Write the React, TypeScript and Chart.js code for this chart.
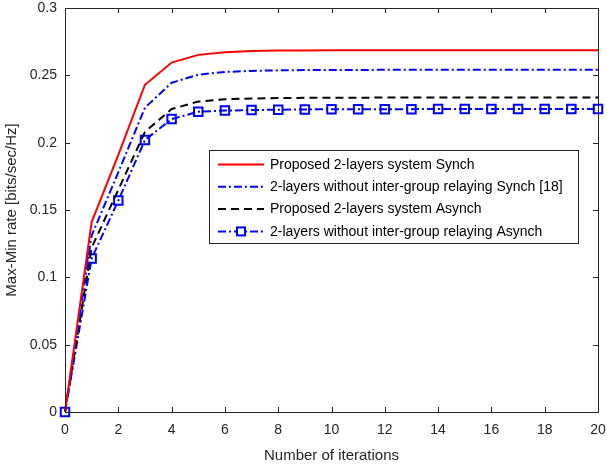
import React, { useEffect, useRef } from "react";
import { Chart, registerables } from "chart.js";

Chart.register(...registerables);

const iterations = [0, 1, 2, 3, 4, 5, 6, 7, 8, 9, 10, 11, 12, 13, 14, 15, 16, 17, 18, 19, 20];
const synchProposed = [0, 0.141, 0.191, 0.243, 0.2595, 0.2652, 0.2672, 0.268, 0.2684, 0.2685, 0.2686, 0.2686, 0.2687, 0.2687, 0.2687, 0.2687, 0.2687, 0.2687, 0.2687, 0.2687, 0.2687];
const synchNoRelay = [0, 0.131, 0.178, 0.226, 0.2445, 0.2505, 0.2525, 0.2533, 0.2537, 0.2539, 0.254, 0.254, 0.2541, 0.2541, 0.2541, 0.2542, 0.2542, 0.2542, 0.2542, 0.2542, 0.2542];
const asynchProposed = [0, 0.122, 0.165, 0.208, 0.225, 0.2305, 0.2322, 0.2328, 0.2331, 0.2333, 0.2334, 0.2334, 0.2335, 0.2335, 0.2335, 0.2335, 0.2335, 0.2335, 0.2335, 0.2335, 0.2335];
const asynchNoRelay = [0, 0.114, 0.157, 0.202, 0.2175, 0.223, 0.2238, 0.2242, 0.2245, 0.2247, 0.2248, 0.2248, 0.2249, 0.2249, 0.225, 0.225, 0.225, 0.225, 0.225, 0.225, 0.225];
const seriesLabels = [
  "Proposed 2-layers system Synch",
  "2-layers without inter-group relaying Synch [18]",
  "Proposed 2-layers system Asynch",
  "2-layers without inter-group relaying Asynch",
];
const xTickValues = [0, 2, 4, 6, 8, 10, 12, 14, 16, 18, 20];
const yTickValues = [0, 0.05, 0.1, 0.15, 0.2, 0.25, 0.3];

const FONT = "'Liberation Sans', Arial, sans-serif";
const AXIS = "#262626";

const toPts = (ys: number[]) => ys.map((y, i) => ({ x: iterations[i], y }));

const boxPlugin = {
  id: "matlabBox",
  afterDraw(chart: any) {
    const { ctx, chartArea: a, scales } = chart;
    ctx.save();
    ctx.strokeStyle = AXIS;
    ctx.lineWidth = 1;
    ctx.strokeRect(a.left + 0.5, a.top + 0.5, a.right - a.left, a.bottom - a.top);
    const tl = 5;
    ctx.beginPath();
    for (const v of xTickValues) {
      const x = Math.round(scales.x.getPixelForValue(v)) + 0.5;
      ctx.moveTo(x, a.bottom);
      ctx.lineTo(x, a.bottom - tl);
      ctx.moveTo(x, a.top);
      ctx.lineTo(x, a.top + tl);
    }
    for (const v of yTickValues) {
      const y = Math.round(scales.y.getPixelForValue(v)) + 0.5;
      ctx.moveTo(a.left, y);
      ctx.lineTo(a.left + tl, y);
      ctx.moveTo(a.right, y);
      ctx.lineTo(a.right - tl, y);
    }
    ctx.stroke();

    // legend
    const lx = 209;
    const ly = 150;
    const lw = 369;
    const lh = 93;
    ctx.fillStyle = "#ffffff";
    ctx.fillRect(lx, ly, lw, lh);
    ctx.strokeStyle = AXIS;
    ctx.lineWidth = 1;
    ctx.strokeRect(lx + 0.5, ly + 0.5, lw, lh);
    ctx.font = `14px ${FONT}`;
    ctx.textBaseline = "middle";
    chart.data.datasets.forEach((ds: any, i: number) => {
      const y = ly + 14.5 + i * 22.3;
      ctx.strokeStyle = ds.borderColor;
      ctx.lineWidth = ds.borderWidth;
      ctx.setLineDash(ds.borderDash || []);
      ctx.beginPath();
      ctx.moveTo(lx + 9, y);
      ctx.lineTo(lx + 55, y);
      ctx.stroke();
      ctx.setLineDash([]);
      if (ds.pointRadius > 0) {
        ctx.lineWidth = 2;
        ctx.fillStyle = "#ffffff";
        ctx.fillRect(lx + 28, y - 4, 8, 8);
        ctx.strokeRect(lx + 28, y - 4, 8, 8);
      }
      ctx.fillStyle = "#000000";
      ctx.fillText(ds.label, lx + 61, y + 0.5);
    });
    ctx.restore();
  },
};

export default function App() {
  const ref = useRef<HTMLCanvasElement>(null);
  useEffect(() => {
    if (!ref.current) return;
    const chart = new Chart(ref.current, {
      type: "line",
      data: {
        datasets: [
          {
            label: seriesLabels[0],
            data: toPts(synchProposed),
            borderColor: "#ff0000",
            borderWidth: 2,
            pointRadius: 0,
            clip: false,
          },
          {
            label: seriesLabels[1],
            data: toPts(synchNoRelay),
            borderColor: "#0000ff",
            borderWidth: 2,
            borderDash: [8, 3, 2, 3],
            pointRadius: 0,
            clip: false,
          },
          {
            label: seriesLabels[2],
            data: toPts(asynchProposed),
            borderColor: "#000000",
            borderWidth: 2,
            borderDash: [8, 5],
            pointRadius: 0,
            clip: false,
          },
          {
            label: seriesLabels[3],
            data: toPts(asynchNoRelay),
            borderColor: "#0000ff",
            borderWidth: 2,
            borderDash: [8, 3, 2, 3],
            pointRadius: 6,
            pointStyle: "rect",
            pointBorderColor: "#0000ff",
            pointBackgroundColor: "rgba(255,255,255,0)",
            pointBorderWidth: 2,
            clip: false,
          },
        ] as any,
      },
      plugins: [boxPlugin],
      options: {
        animation: false,
        responsive: false,
        maintainAspectRatio: false,
        layout: { padding: 0 },
        plugins: { legend: { display: false }, tooltip: { enabled: false } },
        scales: {
          x: {
            type: "linear",
            min: 0,
            max: 20,
            grid: { display: false, drawTicks: false },
            border: { display: false },
            afterFit: (s: any) => {
              s.height = 56;
              s.paddingLeft = 0;
              s.paddingRight = 9;
            },
            afterBuildTicks: (s: any) => {
              s.ticks = xTickValues.map((v) => ({ value: v }));
            },
            ticks: {
              color: AXIS,
              padding: 10,
              maxRotation: 0,
              font: { family: FONT, size: 14 },
              callback: (v: any) => String(v),
            },
            title: {
              display: true,
              text: "Number of iterations",
              color: AXIS,
              font: { family: FONT, size: 15 },
              padding: { top: 2, bottom: 3 },
            },
          },
          y: {
            type: "linear",
            min: 0,
            max: 0.3,
            grid: { display: false, drawTicks: false },
            border: { display: false },
            afterFit: (s: any) => {
              s.width = 65;
              s.paddingTop = 6;
              s.paddingBottom = 0;
            },
            afterBuildTicks: (s: any) => {
              s.ticks = yTickValues.map((v) => ({ value: v }));
            },
            ticks: {
              color: AXIS,
              padding: 8,
              font: { family: FONT, size: 14 },
              callback: (v: any) => String(Number(Number(v).toFixed(2))),
            },
            title: {
              display: true,
              text: "Max-Min rate [bits/sec/Hz]",
              color: AXIS,
              font: { family: FONT, size: 15 },
              padding: { top: 3, bottom: 4 },
            },
          },
        },
      },
    });
    return () => chart.destroy();
  }, []);
  return (
    <div style={{ position: "fixed", left: 0, top: 0, width: 607, height: 468, background: "#fff" }}>
      <canvas ref={ref} width={607} height={468} style={{ width: 607, height: 468 }} />
    </div>
  );
}
